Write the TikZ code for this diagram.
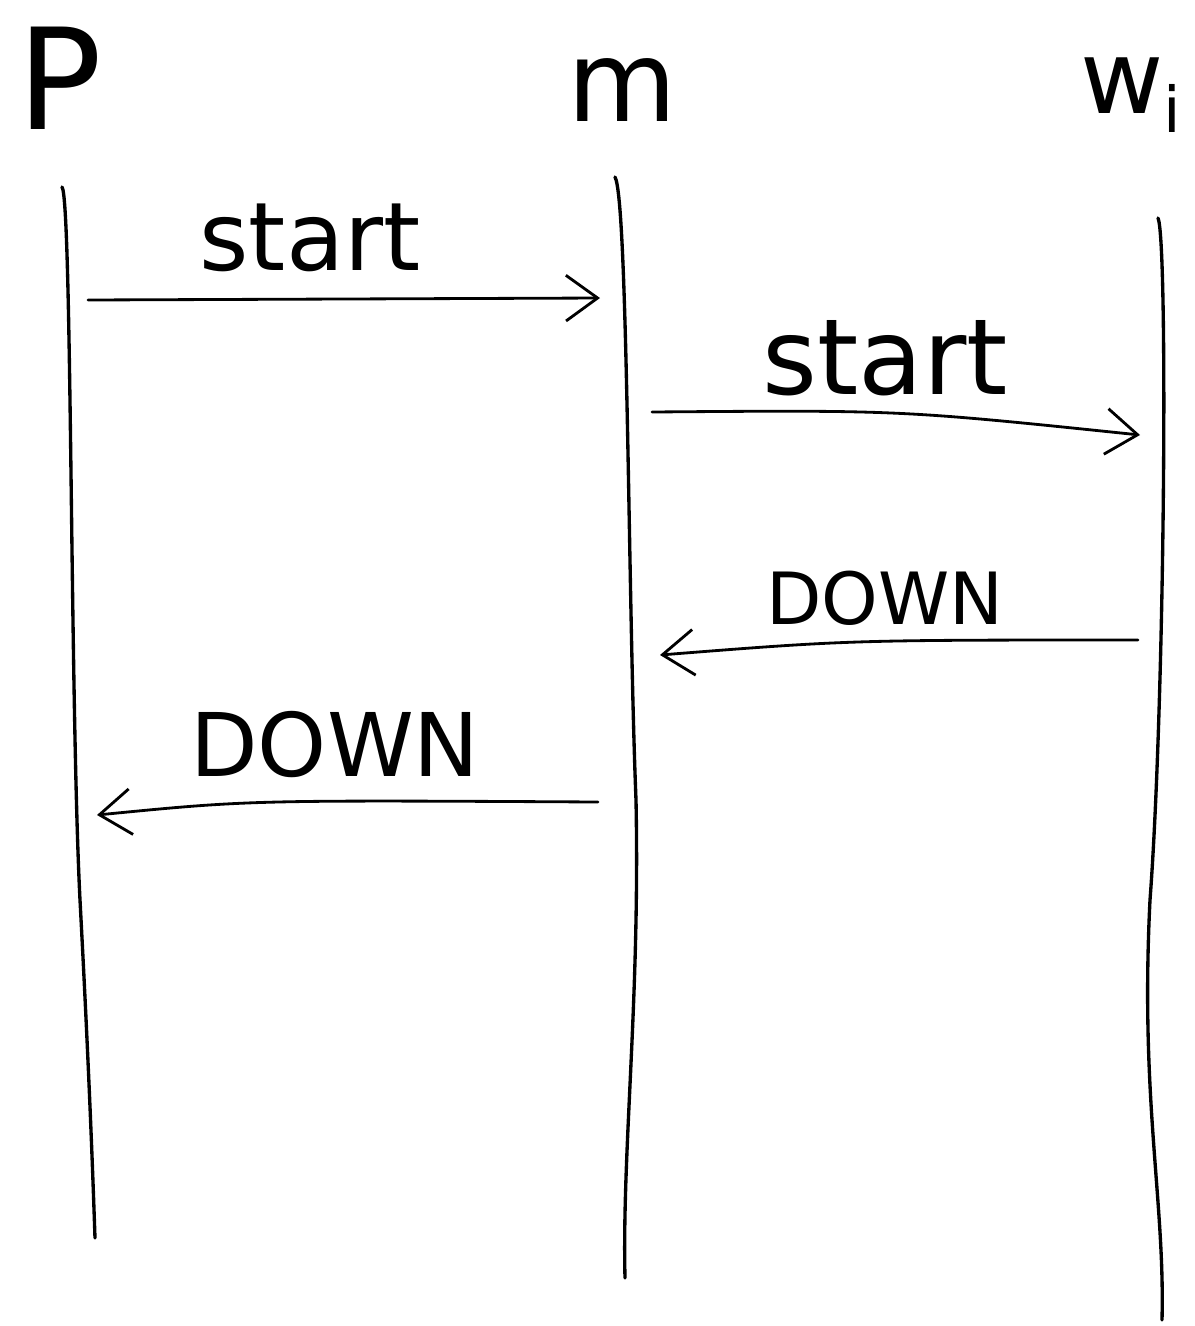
\documentclass[tikz,border=0pt]{standalone}
\usepackage{fontspec}
\setmainfont{DejaVu Sans}
\usetikzlibrary{arrows.meta}
\begin{document}
\begin{tikzpicture}[x=0.02cm,y=-0.02cm,
  life/.style={line width=1.9pt,line cap=round},
  msg/.style={line width=1.6pt,line cap=round,-{Straight Barb[length=18pt,width=26pt,line width=1.6pt]}},
  head/.style={font=\fontsize{64}{64}\selectfont,inner sep=0pt},
  lbl/.style={font=\fontsize{54}{54}\selectfont,inner sep=0pt}]
\useasboundingbox (0,0) rectangle (1195,1326);
% participant names
\node[head,font=\fontsize{80}{80}\selectfont] (hp) at (60,78) {P};
\node[head] (hm) at (622,90) {m};
\node[head,anchor=west,font=\fontsize{58}{58}\selectfont] (hw) at (1080,95) {w\raisebox{-11pt}{\fontsize{36}{36}\selectfont i}};
% lifelines, slightly wavy as if drawn by hand
\coordinate (p0) at (62,187);
\coordinate (p1) at (95,1238);
\coordinate (m0) at (615,177);
\coordinate (m1) at (625,1278);
\coordinate (w0) at (1158,218);
\coordinate (w1) at (1162,1320);
\draw[life] (p0) .. controls (72,200) and (70,700) .. (80,900) .. controls (88,1050) and (92,1150) .. (p1);
\draw[life] (m0) .. controls (628,200) and (628,600) .. (636,800) .. controls (640,1000) and (622,1150) .. (m1);
\draw[life] (w0) .. controls (1168,240) and (1165,700) .. (1150,900) .. controls (1140,1100) and (1165,1200) .. (w1);
% messages
\coordinate (a1s) at (88,300);
\coordinate (a1e) at (600,298);
\coordinate (a2s) at (652,412);
\coordinate (a2e) at (1140,435);
\coordinate (a3s) at (1138,640);
\coordinate (a3e) at (660,655);
\coordinate (a4s) at (598,802);
\coordinate (a4e) at (97,815);
\draw[msg] (a1s) -- (a1e);
\draw[msg] (a2s) .. controls (900,410) .. (a2e);
\draw[msg] (a3s) .. controls (850,640) .. (a3e);
\draw[msg] (a4s) .. controls (250,800) .. (a4e);
\node[lbl] (t1) at (310,238) {start};
\node[lbl,font=\fontsize{60}{60}\selectfont] (t2) at (885,358) {start};
\node[lbl,font=\fontsize{41}{41}\selectfont] (t3) at (885,598) {DOWN};
\node[lbl,font=\fontsize{50}{50}\selectfont] (t4) at (335,745) {DOWN};
\end{tikzpicture}
\end{document}
